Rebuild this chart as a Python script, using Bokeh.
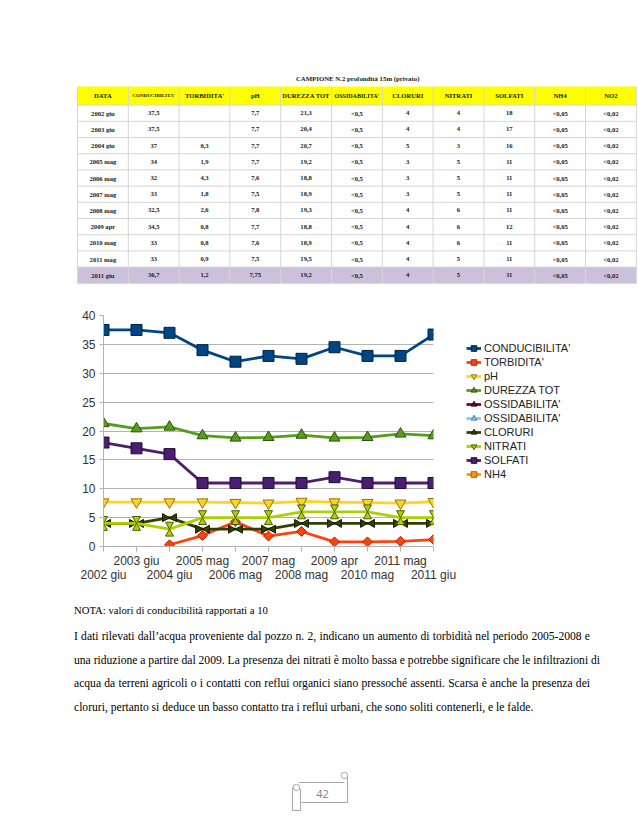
import numpy as np
from bokeh.plotting import figure
from bokeh.models import (Range1d, FixedTicker, LinearAxis, Legend, LegendItem,
                          Div, ColumnDataSource)
from bokeh.layouts import column, row
from bokeh.embed import file_html
from bokeh.resources import INLINE
from bokeh.core.properties import value

# ------------------------------------------------------------------ data
dates = ["2002 giu", "2003 giu", "2004 giu", "2005 mag", "2006 mag", "2007 mag",
         "2008 mag", "2009 apr", "2010 mag", "2011 mag", "2011 giu"]
conducibilita = [37.5, 37.5, 37, 34, 32, 33, 32.5, 34.5, 33, 33, 36.7]
torbidita = [None, None, 0.3, 1.9, 4.3, 1.8, 2.6, 0.8, 0.8, 0.9, 1.2]
ph = [7.7, 7.7, 7.7, 7.7, 7.6, 7.5, 7.8, 7.7, 7.6, 7.5, 7.75]
durezza = [21.3, 20.4, 20.7, 19.2, 18.8, 18.9, 19.3, 18.8, 18.9, 19.5, 19.2]
ossidabilita = ["<0,5"] * 11
cloruri = [4, 4, 5, 3, 3, 3, 4, 4, 4, 4, 4]
nitrati = [4, 4, 3, 5, 5, 5, 6, 6, 6, 5, 5]
solfati = [18, 17, 16, 11, 11, 11, 11, 12, 11, 11, 11]
nh4 = ["<0,05"] * 11
no2 = ["<0,02"] * 11

table_title = "CAMPIONE N.2  profondità 15m (privato)"
headers = ["DATA", "CONDUCIBILITA'", "TORBIDITA'", "pH", "DUREZZA TOT", "OSSIDABILITA'",
           "CLORURI", "NITRATI", "SOLFATI", "NH4", "NO2"]
legend_labels = ["CONDUCIBILITA'", "TORBIDITA'", "pH", "DUREZZA TOT", "OSSIDABILITA'",
                 "OSSIDABILITA'", "CLORURI", "NITRATI", "SOLFATI", "NH4"]
y_ticks = [0, 5, 10, 15, 20, 25, 30, 35, 40]

nota = "NOTA: valori di conducibilità rapportati a 10"
paragraph = [
    "I dati rilevati dall’acqua proveniente dal pozzo n. 2, indicano  un aumento di torbidità nel periodo  2005-2008 e",
    "una riduzione a partire dal 2009. La presenza dei nitrati è molto bassa e potrebbe significare che le infiltrazioni di",
    "acqua da terreni agricoli o i contatti con reflui organici  siano pressoché assenti. Scarsa è anche la  presenza dei",
    "cloruri, pertanto si deduce un basso contatto tra i reflui urbani, che sono soliti contenerli, e le falde.",
]
page_number = "42"


def fmt(v):
    if v is None:
        return ""
    return f"{v:g}".replace(".", ",")


PAGE_W = 638

# ------------------------------------------------------------------ table
TW, TH = PAGE_W, 296
T_LEFT, COL_W = 77.0, 50.8
HDR_TOP, HDR_H, ROW_H = 86.0, 18.6, 16.2
SERIF = "Liberation Serif"

table_cols = [dates, [fmt(v) for v in conducibilita], [fmt(v) for v in torbidita],
              [fmt(v) for v in ph], [fmt(v) for v in durezza], ossidabilita,
              [fmt(v) for v in cloruri], [fmt(v) for v in nitrati],
              [fmt(v) for v in solfati], nh4, no2]
ncol, nrow = len(headers), len(dates)

tf = figure(width=TW, height=TH, x_range=Range1d(0, TW), y_range=Range1d(TH, 0),
            x_axis_location=None, y_axis_location=None, toolbar_location=None,
            output_backend="svg", min_border=0, title=None, frame_align=False)
tf.grid.visible = False
tf.outline_line_color = None

t_right = T_LEFT + ncol * COL_W
body_top = HDR_TOP + HDR_H
tf.quad(left=T_LEFT, right=t_right, top=HDR_TOP, bottom=body_top,
        fill_color="#ffff00", line_color=None)
tf.quad(left=T_LEFT, right=t_right, top=body_top + (nrow - 1) * ROW_H,
        bottom=body_top + nrow * ROW_H, fill_color="#ccc0da", line_color=None)

hy = [body_top + k * ROW_H for k in range(nrow + 1)]
tf.segment(x0=[T_LEFT] * len(hy), x1=[t_right] * len(hy), y0=hy, y1=hy,
           line_color="#d6d6d6", line_width=1)
vx = [T_LEFT + j * COL_W for j in range(ncol + 1)]
tf.segment(x0=vx, x1=vx, y0=[HDR_TOP] * len(vx), y1=[body_top + nrow * ROW_H] * len(vx),
           line_color="#d6d6d6", line_width=1)

col_cx = [T_LEFT + (j + 0.5) * COL_W for j in range(ncol)]
hsizes = {"CONDUCIBILITA'": "5px", "OSSIDABILITA'": "6px"}
hsrc = ColumnDataSource(dict(x=col_cx, y=[HDR_TOP + HDR_H / 2] * ncol, t=headers,
                             s=[hsizes.get(h, "6.6px") for h in headers]))
tf.text(x="x", y="y", text="t", source=hsrc, text_font=value(SERIF),
        text_font_style="bold", text_font_size="s", text_align="center",
        text_baseline="middle", text_color="#1a1a1a")

cx, cy, ct = [], [], []
for j, col in enumerate(table_cols):
    for i, v in enumerate(col):
        cx.append(col_cx[j])
        cy.append(body_top + (i + 0.5) * ROW_H)
        ct.append(v)
tf.text(x=cx, y=cy, text=ct, text_font=value(SERIF), text_font_style="bold",
        text_font_size="6.6px", text_align="center", text_baseline="middle",
        text_color="#1a1a1a")
tf.text(x=[358], y=[HDR_TOP - 8], text=[table_title], text_font=value(SERIF),
        text_font_style="bold", text_font_size="6.8px", text_align="center",
        text_baseline="middle", text_color="#1a1a1a")

# ------------------------------------------------------------------ chart
CW, CH = 458, 296
ML, MR, MT, MB = 103, 25, 19, 46
LGW = PAGE_W - CW
FRAME_W, FRAME_H = CW - ML - MR, CH - MT - MB
idx = np.arange(len(dates))
X_END = float(len(dates) - 1)
Y_END = float(y_ticks[-1])
px_x = FRAME_W / X_END
px_y = FRAME_H / Y_END

p = figure(width=CW, height=CH, x_range=Range1d(0, X_END), y_range=Range1d(0, Y_END),
           min_border_left=ML, min_border_right=MR, min_border_top=MT, min_border_bottom=MB,
           toolbar_location=None, output_backend="svg", title=None, frame_align=False)
p.outline_line_color = None
SANS = "Liberation Sans"
GRAY = "#b3b3b3"

for g in p.grid:
    if g.dimension == 0:
        g.visible = False
    else:
        g.ticker = FixedTicker(ticks=y_ticks)
        g.grid_line_color = GRAY
        g.grid_line_width = 1

ya = p.yaxis[0]
ya.ticker = FixedTicker(ticks=y_ticks)
ya.axis_line_color = GRAY
ya.major_tick_line_color = GRAY
ya.major_tick_out = 4
ya.major_tick_in = 0
ya.minor_tick_line_color = None
ya.major_label_standoff = 4
ya.major_label_text_font = SANS
ya.major_label_text_font_size = "12px"
ya.major_label_text_color = "#333333"

xa = p.xaxis[0]
xa.ticker = FixedTicker(ticks=list(idx))
xa.major_label_overrides = {int(i): (dates[i] if i % 2 == 1 else "") for i in idx}
xa.axis_line_color = GRAY
xa.major_tick_line_color = GRAY
xa.major_tick_out = 5
xa.major_tick_in = 0
xa.minor_tick_line_color = None
xa.major_label_standoff = 2
xa.major_label_text_font = SANS
xa.major_label_text_font_size = "12px"
xa.major_label_text_color = "#333333"

xb = LinearAxis(ticker=FixedTicker(ticks=[int(i) for i in idx if i % 2 == 0]),
                major_label_overrides={int(i): dates[i] for i in idx if i % 2 == 0},
                axis_line_color=None, major_tick_line_color=None, minor_tick_line_color=None,
                major_tick_out=0, major_tick_in=0, major_label_standoff=-3,
                major_label_text_font=SANS, major_label_text_font_size="12px",
                major_label_text_color="#333333")
p.add_layout(xb, "below")

# legend figure (frame = whole figure, so the legend is never clipped)
lf = figure(width=LGW, height=CH, x_range=Range1d(0, X_END), y_range=Range1d(0, Y_END),
            x_axis_location=None, y_axis_location=None, toolbar_location=None,
            output_backend="svg", min_border=0, title=None, frame_align=False)
lf.grid.visible = False
lf.outline_line_color = None

LW = 2.8
TRI = 8.0
tri_off = (TRI / 2) * np.sqrt(3) * 2 / 3
nan_series = np.full(len(dates), np.nan)


def arr(v):
    return np.array(v, dtype=float)


# (values, colour, edge colour, markers)  marker: (marker, size, angle, dx_px, dy_px)
series = [
    (arr(conducibilita), "#004586", "#00233f", [("square", 11, 0, 0, 0)]),
    (arr(torbidita), "#ff420e", "#a82800", [("square", 7, np.pi / 4, 0, 0)]),
    (arr(ph), "#ffd320", "#8c7410", [("inverted_triangle", 11, 0, 0, 0)]),
    (arr(durezza), "#579d1c", "#2b520c", [("triangle", 11, 0, 0, 0)]),
    (nan_series, "#7e0021", "#3f0010", [("triangle", 8, -np.pi / 2, 0, 0)]),
    (nan_series, "#83caff", "#3f7fb0", [("triangle", 8, np.pi / 2, 0, 0)]),
    (arr(cloruri), "#314004", "#141a00", [("triangle", TRI, -np.pi / 2, -tri_off, 0),
                                          ("triangle", TRI, np.pi / 2, tri_off, 0)]),
    (arr(nitrati), "#aecf00", "#4f5e00", [("inverted_triangle", TRI, 0, 0, tri_off),
                                          ("triangle", TRI, 0, 0, -tri_off)]),
    (arr(solfati), "#4b1f6f", "#220c36", [("square", 11, 0, 0, 0)]),
    (nan_series, "#ff950e", "#a85c00", [("square", 6, np.pi / 4, 0, 0)]),
]

items = []
for k, (vals, col, edge, markers) in enumerate(series):
    p.line(idx, vals, line_color=col, line_width=LW)
    for (mk, sz, ang, dxp, dyp) in markers:
        p.scatter(idx + dxp / px_x, vals + dyp / px_y, marker=mk, size=sz, angle=ang,
                  fill_color=col, line_color=edge, line_width=1)
    rl = lf.line(idx, nan_series, line_color=col, line_width=LW)
    mk, sz, ang, _, _ = markers[0]
    rm = lf.scatter(idx, nan_series, marker=mk, size=sz, angle=ang,
                    fill_color=col, line_color=edge, line_width=1)
    items.append(LegendItem(label=legend_labels[k], renderers=[rl, rm]))

ITEM_H = 14
LEG_TOP = 45
LEG_LEFT = 8
legend = Legend(items=items, location=(LEG_LEFT, CH - LEG_TOP - ITEM_H * len(items)),
                orientation="vertical", glyph_width=15, glyph_height=ITEM_H,
                label_height=ITEM_H, spacing=0, padding=0, margin=0, label_standoff=3,
                label_text_font=SANS, label_text_font_size="11px",
                label_text_color="#222222", background_fill_alpha=0,
                border_line_color=None)
lf.add_layout(legend)

# ------------------------------------------------------------------ text
DH = 133
line_tops = [9, 36, 60, 83, 107]
html = ['<div style="position:relative;width:%dpx;height:%dpx;'
        'font-family:\'Liberation Serif\',serif;color:#000;">' % (PAGE_W, DH)]
base = "position:absolute;left:74px;height:18px;line-height:18px;white-space:nowrap;"
html.append('<div style="%sfont-size:10.7px;top:%dpx;">%s</div>' % (base, line_tops[0], nota))
for k, line in enumerate(paragraph):
    last = k == len(paragraph) - 1
    align = "" if last else "width:516px;text-align:justify;text-align-last:justify;"
    html.append('<div style="%sfont-size:11.6px;%stop:%dpx;">%s</div>'
                % (base, align, line_tops[k + 1], line))
html.append("</div>")
div = Div(text="".join(html), width=PAGE_W, height=DH, margin=0)

# ------------------------------------------------------------------ page number scroll
SH = 826 - TH - CH - DH
sf = figure(width=PAGE_W, height=SH, x_range=Range1d(0, PAGE_W), y_range=Range1d(SH, 0),
            x_axis_location=None, y_axis_location=None, toolbar_location=None,
            output_backend="svg", min_border=0, title=None, frame_align=False)
sf.grid.visible = False
sf.outline_line_color = None
SC = "#a6a6a6"
sf.multi_line(xs=[[298, 344], [347, 347], [301, 347], [292, 292, 300], [300, 300]],
              ys=[[57, 57], [50, 77], [77, 77], [62, 85, 85], [63, 85]],
              line_color=SC, line_width=1)
sf.arc(x=[344, 296], y=[50, 62], radius=3.2, start_angle=0, end_angle=2 * np.pi,
       line_color=SC, line_width=1)
sf.text(x=[322], y=[68], text=[page_number], text_font=value("Open Sans"),
        text_font_size="11px", text_align="center", text_baseline="middle",
        text_color="#7f7f7f")

layout = column(tf, row(p, lf, spacing=0), div, sf, spacing=0)
open("out.html", "w").write(file_html(layout, INLINE, title="CAMPIONE N.2"))
